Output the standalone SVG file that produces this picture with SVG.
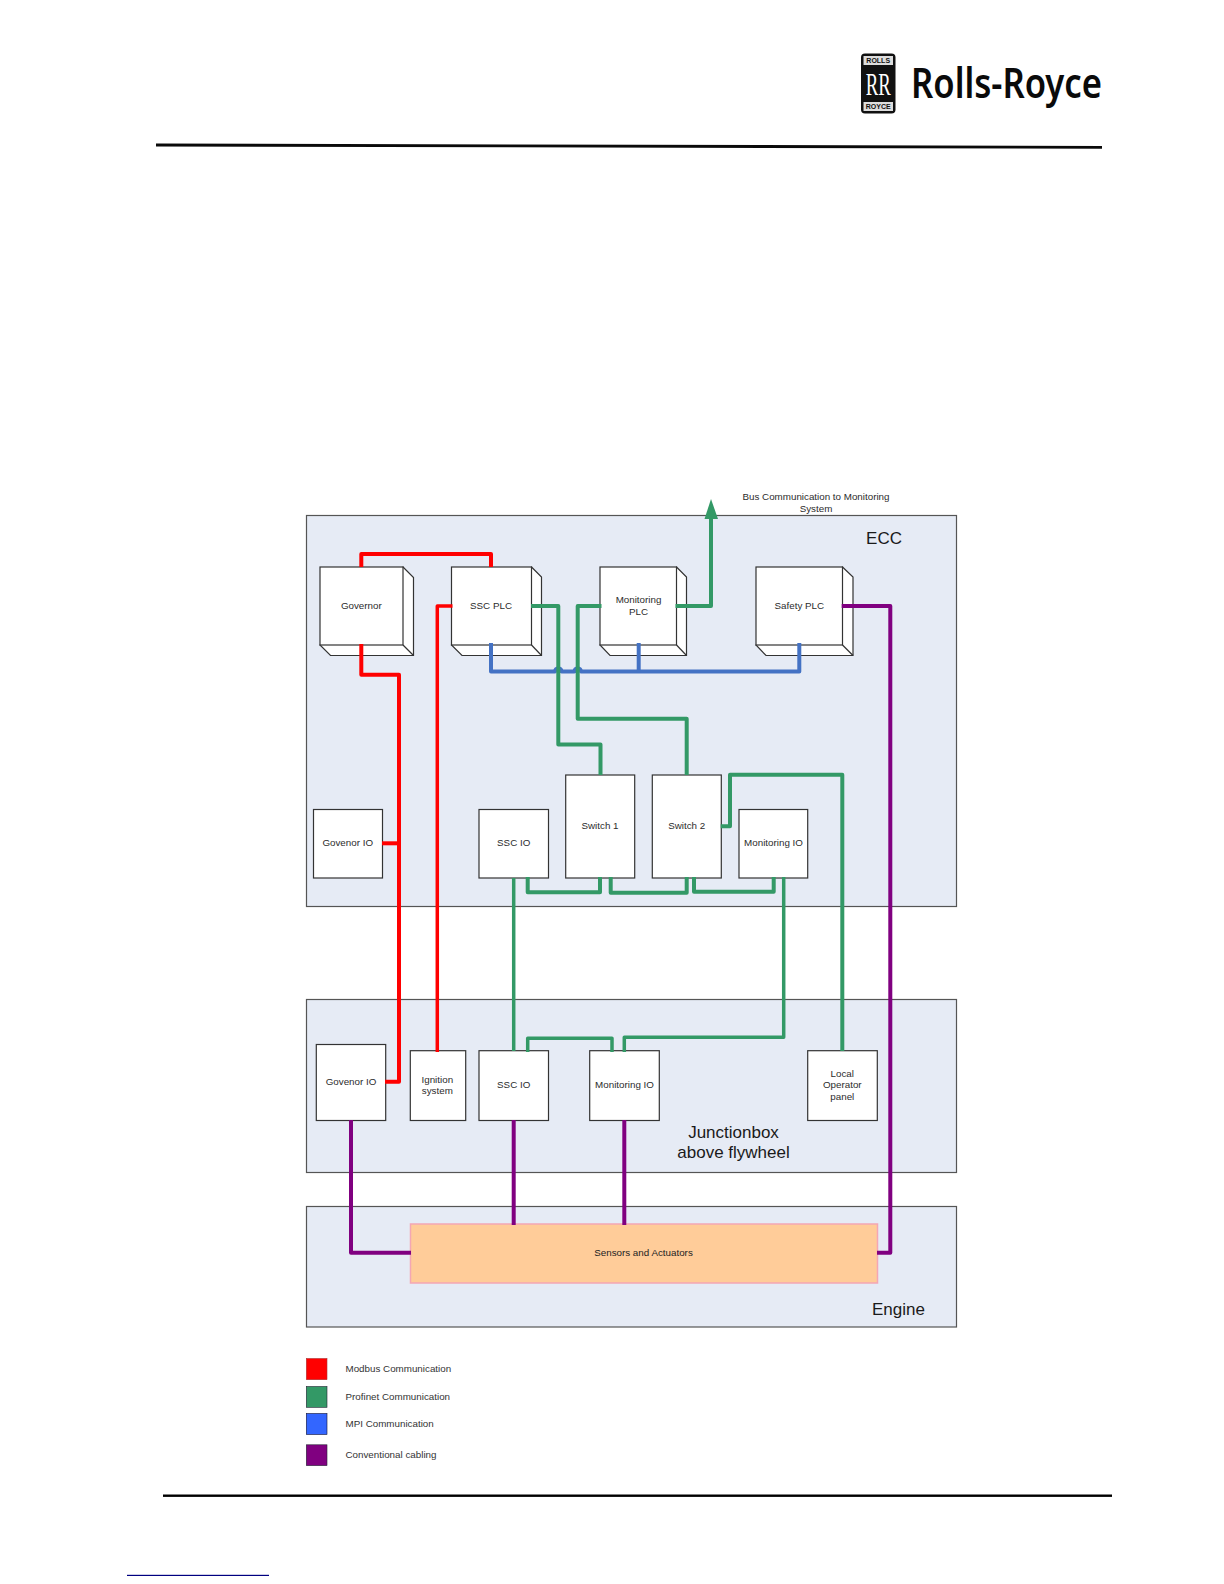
<svg xmlns="http://www.w3.org/2000/svg" width="1224" height="1584" viewBox="0 0 1224 1584">
<style>
text{font-family:"Liberation Sans",Arial,sans-serif;font-size:9.8px;fill:#2c2c2c;text-anchor:middle}
.big{font-size:17px;fill:#1a1a1a}
.leg{text-anchor:start;fill:#333}
.panel{fill:#e6ebf5;stroke:#555;stroke-width:1.2}
.box{fill:#fff;stroke:#333;stroke-width:1.2}
.c{fill:none;stroke-linejoin:round;stroke-linecap:butt}
.r{stroke:#f00;stroke-width:4}
.g{stroke:#339966;stroke-width:4}
.g3{stroke:#339966;stroke-width:3.5}
.b{stroke:#4472c4;stroke-width:4}
.p{stroke:#800080;stroke-width:4}
.sw{fill:#333;stroke:#333;stroke-width:.6}
</style>
<g id="header">
<polygon points="156,143.500 1102,146 1102,148.800 156,146.500" fill="#0a0a0a"/>
<rect x="861" y="53.500" width="34.500" height="60" rx="4" fill="#111"/>
<rect x="863.500" y="56" width="29.500" height="9" fill="#ddd"/>
<rect x="863.500" y="102" width="29.500" height="9" fill="#ddd"/>
<text x="878.200" y="63.300" style="font-size:7px;font-weight:bold;fill:#111">ROLLS</text>
<text x="878.200" y="109.300" style="font-size:7px;font-weight:bold;fill:#111">ROYCE</text>
<text x="878.300" y="94.500" style="font-family:'Liberation Serif',serif;font-size:31px;fill:#fff" textLength="25" lengthAdjust="spacingAndGlyphs">RR</text>
<text x="1006.500" y="98.300" style="font-family:'Noto Sans',sans-serif;font-size:42px;font-weight:600;fill:#0a0a0a" textLength="191" lengthAdjust="spacingAndGlyphs">Rolls-Royce</text>
</g>
<g id="footer">
<rect x="163" y="1494.500" width="949" height="2.400" fill="#000"/>
<rect x="127" y="1574.800" width="142" height="1.200" fill="#000080"/>
</g>
<g id="panels">
<g id="ecc"><rect class="panel" x="306.500" y="515.500" width="650" height="391"/><text class="big" x="884" y="544">ECC</text></g>
<g id="junctionbox"><rect class="panel" x="306.500" y="999.500" width="650" height="173"/></g>
<g id="engine"><rect class="panel" x="306.500" y="1206.500" width="650" height="120.500"/><text class="big" x="898.500" y="1315">Engine</text></g>
</g>
<g id="junction-label"><text class="big" x="733.500" y="1137.700">Junctionbox</text><text class="big" x="733.500" y="1157.700">above flywheel</text></g>
<g id="governor"><path class="box" d="M403 567l10.500 10.500v78H330.500L320 645z"/><path class="box" d="M403 645l10.500 10.500" fill="none"/><rect class="box" x="320" y="567" width="83" height="78"/><text x="361.300" y="609">Governor</text></g>
<g id="ssc-plc"><path class="box" d="M531.500 567l10 10v78.500H462L451.500 645z"/><path class="box" d="M531.500 645l10 10.500"/><rect class="box" x="451.500" y="567" width="80" height="78"/><text x="491" y="608.500">SSC PLC</text></g>
<g id="monitoring-plc"><path class="box" d="M676.500 567l10 10v78.500H610L600 645z"/><path class="box" d="M676.500 645l10 10.500"/><rect class="box" x="600" y="567" width="76.500" height="78"/><text x="638.500" y="603">Monitoring</text><text x="638.500" y="614.500">PLC</text></g>
<g id="safety-plc"><path class="box" d="M842.500 567l10.500 10v78.500H766L756 645z"/><path class="box" d="M842.500 645l10.500 10.500"/><rect class="box" x="756" y="567" width="86.500" height="78"/><text x="799.300" y="608.500">Safety PLC</text></g>
<g id="govenor-io-top"><rect class="box" x="313.500" y="809.500" width="69" height="68.500"/><text x="347.700" y="846">Govenor IO</text></g>
<g id="ssc-io-top"><rect class="box" x="479" y="809.500" width="69.500" height="68.500"/><text x="513.700" y="846">SSC IO</text></g>
<g id="switch-1"><rect class="box" x="565.700" y="775" width="69" height="103"/><text x="600" y="829">Switch 1</text></g>
<g id="switch-2"><rect class="box" x="652.300" y="775" width="69" height="103"/><text x="686.700" y="829">Switch 2</text></g>
<g id="monitoring-io-top"><rect class="box" x="739" y="809.500" width="68.700" height="68.500"/><text x="773.500" y="846">Monitoring IO</text></g>
<g id="govenor-io-bottom"><rect class="box" x="316.300" y="1044.500" width="69.400" height="76"/><text x="351" y="1085">Govenor IO</text></g>
<g id="ignition"><rect class="box" x="410.300" y="1050.700" width="55.400" height="69.800"/><text x="437.300" y="1082.500">Ignition</text><text x="437.300" y="1094">system</text></g>
<g id="ssc-io-bottom"><rect class="box" x="479" y="1050.700" width="69.500" height="69.800"/><text x="513.700" y="1088">SSC IO</text></g>
<g id="monitoring-io-bottom"><rect class="box" x="589.700" y="1050.700" width="69.600" height="69.800"/><text x="624.500" y="1088">Monitoring IO</text></g>
<g id="local-panel"><rect class="box" x="807.700" y="1050.700" width="69.600" height="69.800"/><text x="842.300" y="1076.500">Local</text><text x="842.300" y="1088">Operator</text><text x="842.300" y="1099.500">panel</text></g>
<g id="sensors"><rect x="410.500" y="1224" width="467" height="59" fill="#ffcc99" stroke="#f4a6b4" stroke-width="1.500"/><text x="643.500" y="1255.500" style="fill:#222">Sensors and Actuators</text></g>
<g id="bus-label"><text x="816" y="500">Bus Communication to Monitoring</text><text x="816" y="511.500">System</text></g>
<g id="connectors">
<path class="c r" d="M361.300 567V554H491V567"/>
<path class="c r" d="M361.300 644V674.700H399V1081.700H385"/>
<path class="c r" d="M382 843.300H399"/>
<path class="c r" d="M452.500 606H437.300V1052" style="stroke-width:3.500"/>
<path class="c b" d="M491 643V671.500H555a3.300 3.300 0 0 1 6.600 0H574.400a3.300 3.300 0 0 1 6.600 0H799.300V643"/>
<path class="c b" d="M638.700 643V671.500"/>
<path class="c g" d="M531 606H558.300V744.500H600.500V775"/>
<path class="c g" d="M601.500 606H577.700V718.800H686.700V775"/>
<path class="c g" d="M675.500 606H711V515"/>
<polygon points="711,499 718,519 704.500,519" fill="#339966"/>
<path class="c g3" d="M513.700 878V1051"/>
<path class="c g" d="M527.700 877V892.300H600V877"/>
<path class="c g" d="M610.700 877V892.700H686.700V877"/>
<path class="c g" d="M694 877V891.700H773.700V877"/>
<path class="c g3" d="M783.700 877V1037.300H624.300V1052"/>
<path class="c g" d="M527.700 1052V1038.300H612V1052" style="stroke-width:3.500"/>
<path class="c g" d="M720.700 826.300H730V774.700H842.300V1051"/>
<path class="c p" d="M841.700 606H890.300V1252.700H877"/>
<path class="c p" d="M351 1120V1252.700H411"/>
<path class="c p" d="M513.700 1120V1225"/>
<path class="c p" d="M624.300 1120V1225"/>
</g>
<g id="legend">
<rect class="sw" x="306.300" y="1358.500" width="20.700" height="21.200" style="fill:#f00;stroke:#a33"/>
<rect class="sw" x="306.300" y="1386.500" width="20.700" height="20.800" style="fill:#339966;stroke:#223"/>
<rect class="sw" x="306.300" y="1413.500" width="20.700" height="21" style="fill:#3366ff;stroke:#113"/>
<rect class="sw" x="306.300" y="1444.800" width="20.700" height="20.800" style="fill:#800080;stroke:#223"/>
<text class="leg" x="345.500" y="1371.700">Modbus Communication</text>
<text class="leg" x="345.500" y="1399.500">Profinet Communication</text>
<text class="leg" x="345.500" y="1426.700">MPI Communication</text>
<text class="leg" x="345.500" y="1458">Conventional cabling</text>
</g>
</svg>
